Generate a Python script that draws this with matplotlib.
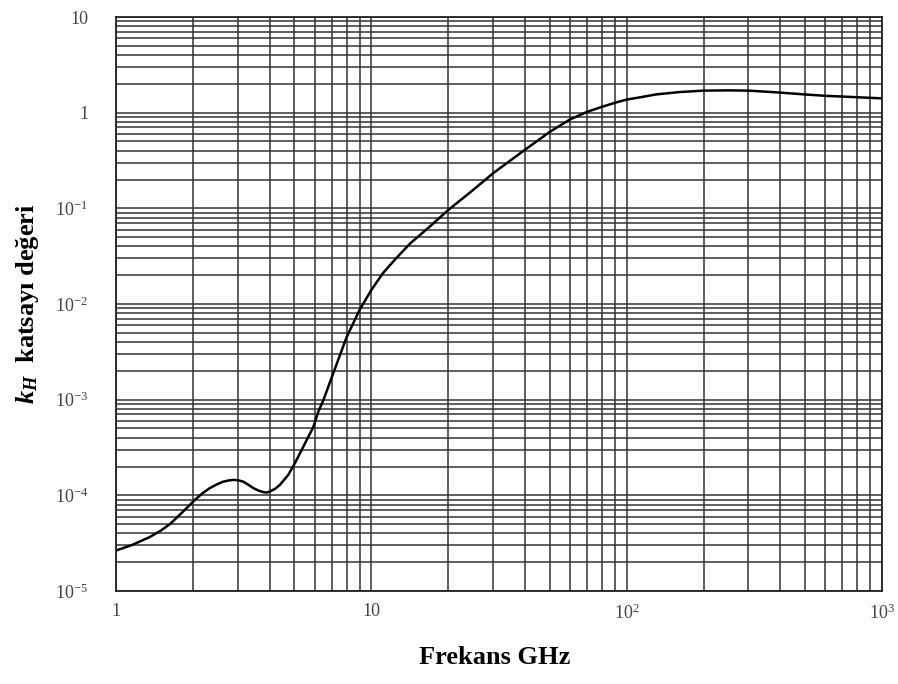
import matplotlib
matplotlib.use("Agg")
import matplotlib.pyplot as plt
from matplotlib.ticker import FixedLocator, FixedFormatter, LogLocator, NullFormatter

plt.rcParams['font.family'] = ['Liberation Serif', 'DejaVu Serif']
plt.rcParams['mathtext.fontset'] = 'custom'
plt.rcParams['mathtext.rm'] = 'Liberation Serif'
plt.rcParams['mathtext.it'] = 'Liberation Serif:italic:bold'
plt.rcParams['mathtext.bf'] = 'Liberation Serif:bold'

# okunan degerler (frekans GHz, kH)
frekans = [1, 1.15, 1.36, 1.5, 1.63, 1.835, 2.04, 2.18, 2.33, 2.48, 2.63, 2.76, 2.88,
           3.0, 3.15, 3.3, 3.45, 3.62, 3.78, 3.9, 4.01, 4.2, 4.39, 4.73, 5.02, 5.42,
           5.93, 6.2, 6.5, 7.1, 8.0, 9.0, 10, 11.1, 12.5, 14.2, 17, 20,
           25, 30, 40, 50, 60, 70, 80, 90, 100, 115, 130, 160, 200, 250, 300, 400,
           500, 600, 800, 1000]
kH = [2.65e-5, 3.01e-5, 3.68e-5, 4.29e-5, 5.03e-5, 6.8e-5, 9.0e-5, 1.05e-4, 1.19e-4,
      1.30e-4, 1.39e-4, 1.43e-4, 1.45e-4,
      1.44e-4, 1.39e-4, 1.29e-4, 1.19e-4, 1.12e-4, 1.08e-4, 1.07e-4, 1.10e-4, 1.17e-4,
      1.29e-4, 1.64e-4, 2.17e-4, 3.24e-4,
      5.2e-4, 7.5e-4, 1.0e-3, 1.9e-3, 4.5e-3, 8.7e-3, 0.014, 0.021, 0.030, 0.043,
      0.065, 0.096, 0.155, 0.233, 0.41, 0.63, 0.85, 1.02, 1.15, 1.27, 1.37, 1.46,
      1.55, 1.64, 1.70, 1.71, 1.70, 1.62, 1.55, 1.50, 1.45, 1.41]

xticks = [1, 10, 100, 1000]
xlabels = ['1', '10', '$10^{2}$', '$10^{3}$']
yticks = [1e-5, 1e-4, 1e-3, 1e-2, 1e-1, 1, 10]
ylabels = ['$10^{-5}$', '$10^{-4}$', '$10^{-3}$', '$10^{-2}$', '$10^{-1}$', '1', '10']

fig = plt.figure(figsize=(8.98, 6.84), dpi=100)
ax = fig.add_axes([116/898, 1-591/684, 766/898, 574/684])

ax.plot(frekans, kH, color='black', lw=1.8, zorder=3)

ax.set_xscale('log')
ax.set_yscale('log')
ax.set_xlim(1, 1000)
ax.set_ylim(1e-5, 10)

ax.xaxis.set_major_locator(FixedLocator(xticks))
ax.xaxis.set_major_formatter(FixedFormatter(xlabels))
ax.yaxis.set_major_locator(FixedLocator(yticks))
ax.yaxis.set_major_formatter(FixedFormatter(ylabels))
for axis in (ax.xaxis, ax.yaxis):
    axis.set_minor_locator(LogLocator(base=10, subs=range(2, 10), numticks=20))
    axis.set_minor_formatter(NullFormatter())

ax.tick_params(which='both', length=0)
ax.tick_params(axis='y', pad=20, labelsize=13, labelcolor='#444444')
ax.tick_params(axis='x', pad=9, labelsize=13, labelcolor='#444444')

ax.grid(which='both', color='#333333', lw=1.1)
for s in ax.spines.values():
    s.set_color('#222222')
    s.set_linewidth(1.3)

fig.text(495/898, 1-657/684, 'Frekans GHz', ha='center', va='center',
         fontsize=19, fontweight='bold')
fig.text(28/898, 1-304/684, r'$k_H$  katsayı değeri', ha='center', va='center',
         rotation=90, fontsize=19, fontweight='bold')

fig.savefig('out.png', dpi=100)
